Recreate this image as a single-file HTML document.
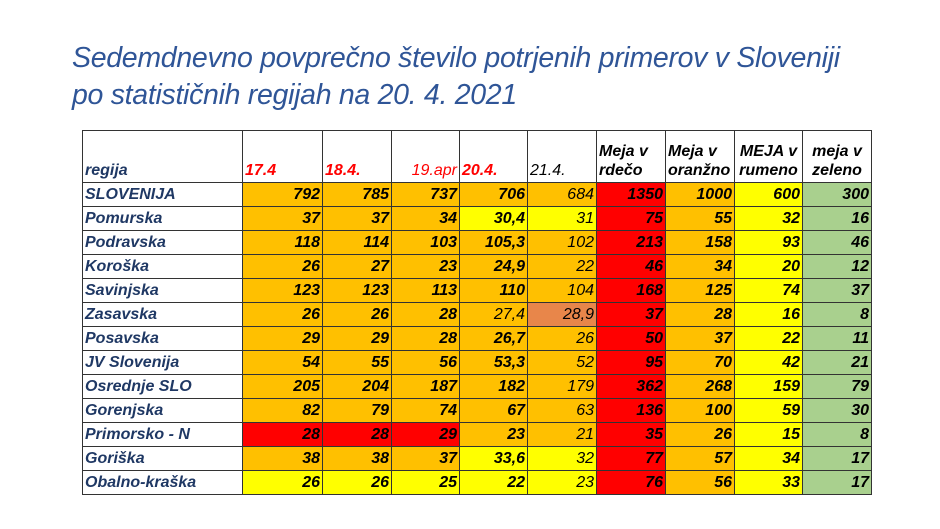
<!DOCTYPE html>
<html><head><meta charset="utf-8"><style>
body{margin:0;width:940px;height:529px;background:#fff;overflow:hidden;font-family:"Liberation Sans",sans-serif;position:relative}
.t{position:absolute;left:72px;color:#2F5597;font-style:italic;font-size:28.5px;white-space:nowrap;letter-spacing:-0.3px}
table{position:absolute;left:82px;top:130px;border-collapse:collapse;font-style:italic;font-weight:bold;font-size:16px}
td{border:1px solid #333;height:23px;padding:0 2px;text-align:right;line-height:23px;white-space:nowrap;overflow:hidden}
tr.h td{height:49px;vertical-align:bottom;text-align:left;line-height:19px;padding-bottom:2px}
td.n{color:#1F3864;text-align:left}
.r{color:#f00}.o{background:#FFC000}.y{background:#FFFF00}.R{background:#FF0000}.g{background:#A9D08E}.c{background:#E8864A}
.l{font-weight:normal}
</style></head><body>
<div class="t" style="top:42px">Sedemdnevno povprečno število potrjenih primerov v Sloveniji</div>
<div class="t" style="top:79px">po statističnih regijah na 20. 4. 2021</div>
<table>
<colgroup><col style="width:160px"><col style="width:80px"><col style="width:69px"><col style="width:68px"><col style="width:68px"><col style="width:69px"><col style="width:69px"><col style="width:69px"><col style="width:68px"><col style="width:69px"></colgroup>
<tr class="h"><td class="n">regija</td><td class="r">17.4</td><td class="r">18.4.</td><td class="r l" style="text-align:right">19.apr</td><td class="r">20.4.</td><td class="l">21.4.</td><td>Meja v<br>rdečo</td><td>Meja v<br>oranžno</td><td style="text-align:center">MEJA v<br>rumeno</td><td style="text-align:center">meja v<br>zeleno</td></tr>
<tr><td class="n">SLOVENIJA</td><td class="o">792</td><td class="o">785</td><td class="o">737</td><td class="o">706</td><td class="o l">684</td><td class="R">1350</td><td class="o">1000</td><td class="y">600</td><td class="g">300</td></tr>
<tr><td class="n">Pomurska</td><td class="o">37</td><td class="o">37</td><td class="o">34</td><td class="y">30,4</td><td class="y l">31</td><td class="R">75</td><td class="o">55</td><td class="y">32</td><td class="g">16</td></tr>
<tr><td class="n">Podravska</td><td class="o">118</td><td class="o">114</td><td class="o">103</td><td class="o">105,3</td><td class="o l">102</td><td class="R">213</td><td class="o">158</td><td class="y">93</td><td class="g">46</td></tr>
<tr><td class="n">Koroška</td><td class="o">26</td><td class="o">27</td><td class="o">23</td><td class="o">24,9</td><td class="o l">22</td><td class="R">46</td><td class="o">34</td><td class="y">20</td><td class="g">12</td></tr>
<tr><td class="n">Savinjska</td><td class="o">123</td><td class="o">123</td><td class="o">113</td><td class="o">110</td><td class="o l">104</td><td class="R">168</td><td class="o">125</td><td class="y">74</td><td class="g">37</td></tr>
<tr><td class="n">Zasavska</td><td class="o">26</td><td class="o">26</td><td class="o">28</td><td class="o l">27,4</td><td class="c l">28,9</td><td class="R">37</td><td class="o">28</td><td class="y">16</td><td class="g">8</td></tr>
<tr><td class="n">Posavska</td><td class="o">29</td><td class="o">29</td><td class="o">28</td><td class="o">26,7</td><td class="o l">26</td><td class="R">50</td><td class="o">37</td><td class="y">22</td><td class="g">11</td></tr>
<tr><td class="n">JV Slovenija</td><td class="o">54</td><td class="o">55</td><td class="o">56</td><td class="o">53,3</td><td class="o l">52</td><td class="R">95</td><td class="o">70</td><td class="y">42</td><td class="g">21</td></tr>
<tr><td class="n">Osrednje SLO</td><td class="o">205</td><td class="o">204</td><td class="o">187</td><td class="o">182</td><td class="o l">179</td><td class="R">362</td><td class="o">268</td><td class="y">159</td><td class="g">79</td></tr>
<tr><td class="n">Gorenjska</td><td class="o">82</td><td class="o">79</td><td class="o">74</td><td class="o">67</td><td class="o l">63</td><td class="R">136</td><td class="o">100</td><td class="y">59</td><td class="g">30</td></tr>
<tr><td class="n">Primorsko - N</td><td class="R">28</td><td class="R">28</td><td class="R">29</td><td class="o">23</td><td class="o l">21</td><td class="R">35</td><td class="o">26</td><td class="y">15</td><td class="g">8</td></tr>
<tr><td class="n">Goriška</td><td class="o">38</td><td class="o">38</td><td class="o">37</td><td class="y">33,6</td><td class="y l">32</td><td class="R">77</td><td class="o">57</td><td class="y">34</td><td class="g">17</td></tr>
<tr><td class="n">Obalno-kraška</td><td class="y">26</td><td class="y">26</td><td class="y">25</td><td class="y">22</td><td class="y l">23</td><td class="R">76</td><td class="o">56</td><td class="y">33</td><td class="g">17</td></tr>
</table>
</body></html>
